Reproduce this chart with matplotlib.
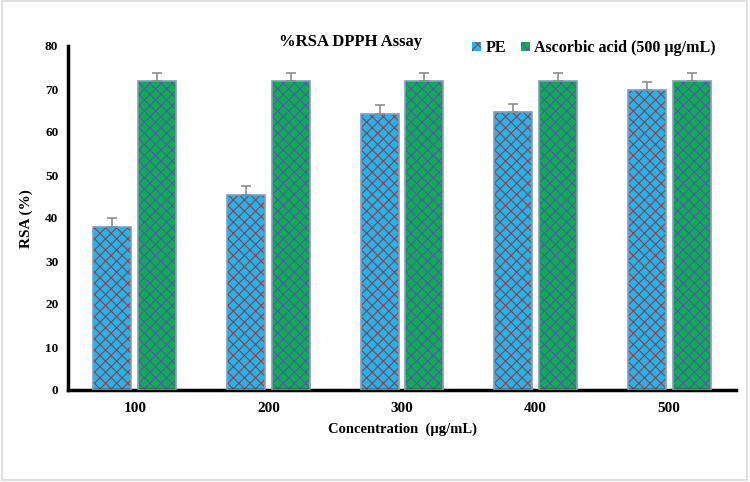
import matplotlib
matplotlib.use("Agg")
import matplotlib.pyplot as plt
import numpy as np
from matplotlib.patches import Rectangle, Patch

categories = ["100", "200", "300", "400", "500"]
pe_values = [38.0, 45.4, 64.2, 64.6, 69.7]
pe_err = [2.0, 2.0, 2.0, 2.0, 2.0]
aa_values = [71.8, 71.8, 71.8, 71.8, 71.8]
aa_err = [2.0, 2.0, 2.0, 2.0, 2.0]
yticks = [0, 10, 20, 30, 40, 50, 60, 70, 80]

plt.rcParams['font.family'] = ['Liberation Serif', 'DejaVu Serif']
plt.rcParams['hatch.linewidth'] = 0.8

fig = plt.figure(figsize=(7.5, 4.82), dpi=100)
ax = fig.add_axes([68/750, 1-390/482, (736-68)/750, (390-46)/482])

x = np.arange(len(categories))
w = 0.285
gap = 0.05
pe_x = x - (w + gap) / 2
aa_x = x + (w + gap) / 2

pe_face = "#19b8f0"
pe_hatch = "#b0323c"
aa_face = "#0bb04c"
aa_hatch = "#5a4fc0"
edge = "#8a9ab8"
hatch = "xxx"

# hatch layers
ax.bar(pe_x, pe_values, w, color=pe_face, edgecolor=pe_hatch, hatch=hatch, linewidth=0, zorder=2)
ax.bar(aa_x, aa_values, w, color=aa_face, edgecolor=aa_hatch, hatch=hatch, linewidth=0, zorder=2)
# outlines
ax.bar(pe_x, pe_values, w, fill=False, edgecolor=edge, linewidth=1.2, zorder=3)
ax.bar(aa_x, aa_values, w, fill=False, edgecolor=edge, linewidth=1.2, zorder=3)
# error bars
ax.errorbar(pe_x, pe_values, yerr=[[0]*5, pe_err], fmt='none', ecolor="#8c8c8c", elinewidth=1.2, capsize=3.5, capthick=1.2, zorder=4)
ax.errorbar(aa_x, aa_values, yerr=[[0]*5, aa_err], fmt='none', ecolor="#8c8c8c", elinewidth=1.2, capsize=3.5, capthick=1.2, zorder=4)

ax.set_xlim(-0.5, len(categories) - 0.5)
ax.set_ylim(0, 80)
ax.set_yticks(yticks)
ax.set_yticklabels([str(t) for t in yticks], fontsize=9.5, fontweight='bold')
ax.set_xticks(x)
ax.set_xticklabels(categories, fontsize=11, fontweight='bold')
ax.tick_params(axis='both', length=0)
ax.tick_params(axis='y', pad=7)
ax.tick_params(axis='x', pad=9)
for s in ['top', 'right']:
    ax.spines[s].set_visible(False)
for s in ['left', 'bottom']:
    ax.spines[s].set_linewidth(2.5)
    ax.spines[s].set_color('black')

ax.set_xlabel("Concentration  (µg/mL)", fontsize=10.5, fontweight='bold', labelpad=5)
fig.text(26/750, 1-219/482, "RSA (%)", fontsize=11, fontweight='bold', rotation=90,
         ha='center', va='center')

fig.text(351/750, 1-42/482, "%RSA DPPH Assay", fontsize=12, fontweight='bold', ha='center', va='center')

handles = [Patch(facecolor=pe_face, edgecolor=pe_hatch, hatch=hatch, linewidth=0),
           Patch(facecolor=aa_face, edgecolor=aa_hatch, hatch=hatch, linewidth=0)]
leg = fig.legend(handles, ["PE", "Ascorbic acid (500 µg/mL)"], loc='center left',
                 bbox_to_anchor=(469/750, 1-48/482), ncol=2, frameon=False,
                 prop={'weight': 'bold', 'size': 11.5}, handlelength=0.55, handleheight=0.55,
                 handletextpad=0.3, columnspacing=0.9, borderpad=0.2, borderaxespad=0)

fig.patches.append(Rectangle((0.002, 0.004), 0.994, 0.993, transform=fig.transFigure,
                             fill=False, edgecolor="#d9d9d9", linewidth=1.2))

fig.savefig("out.png", dpi=100)
